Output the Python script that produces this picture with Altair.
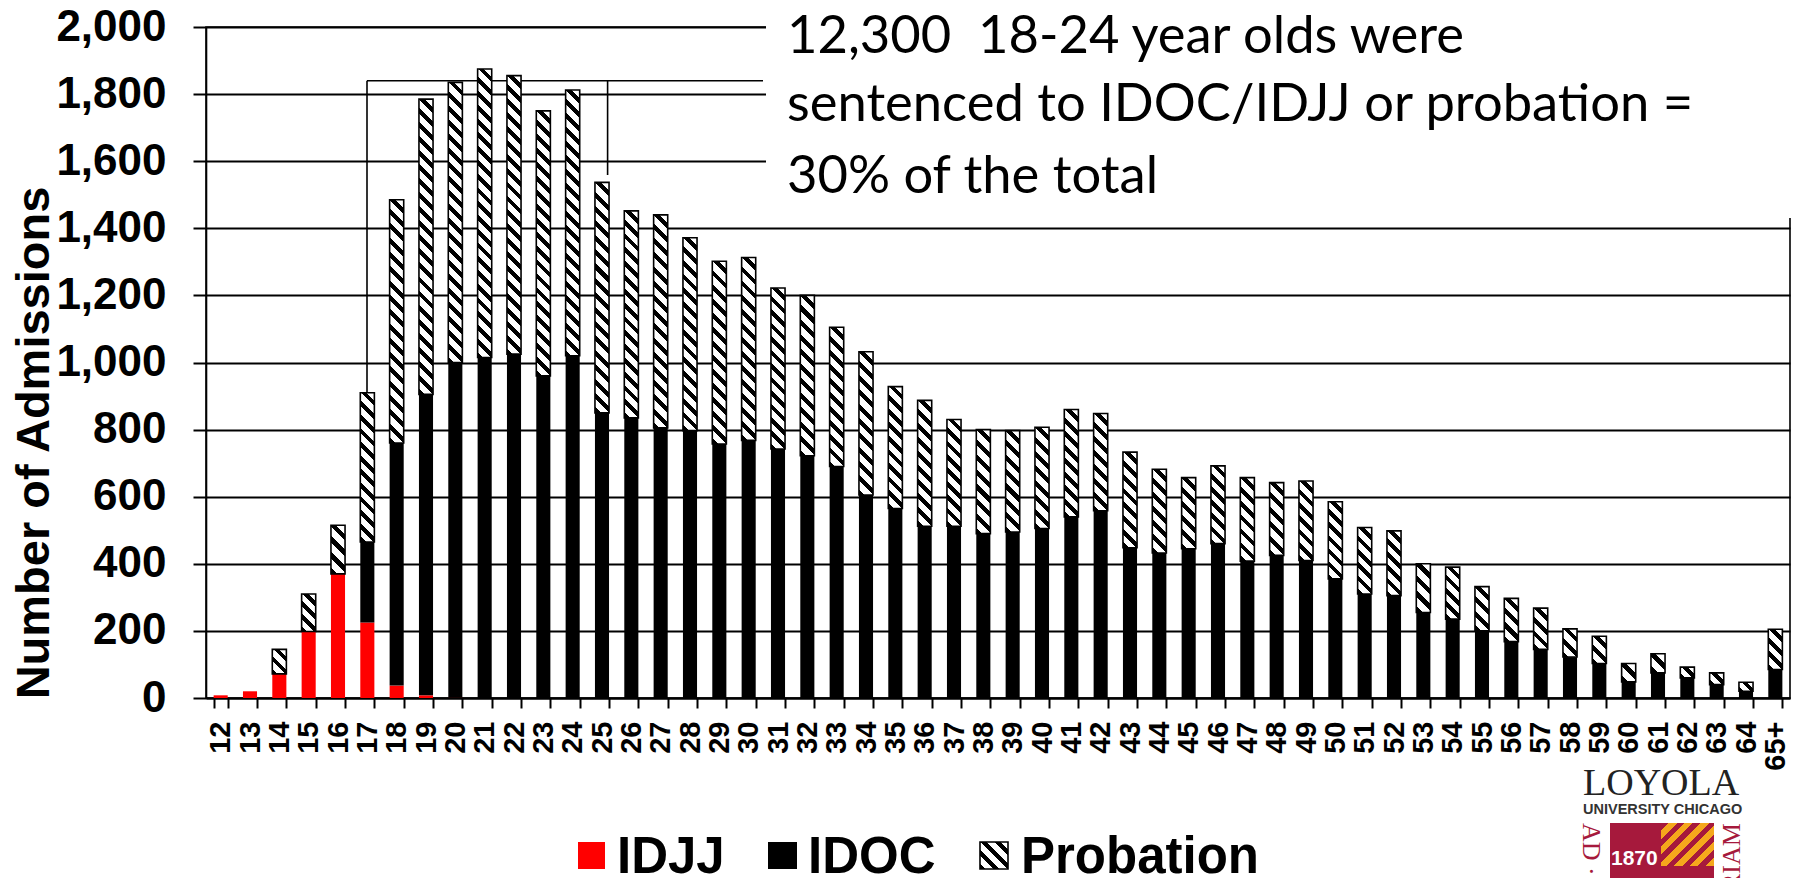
import altair as alt
import pandas as pd

ages = [str(a) for a in range(12, 65)] + ["65+"]
idjj = [8, 20, 72, 198, 370, 225, 37, 8, 1] + [0] * 45
idoc_top = [8, 20, 72, 198, 370, 465, 760, 905, 1000, 1015, 1025, 960, 1020, 850, 835, 805, 797, 757, 768, 742,
            722, 690, 605, 565, 512, 512, 490, 495, 505, 540, 558, 448, 432, 445, 460, 408, 425, 410, 355, 310,
            305, 255, 235, 200, 168, 145, 122, 103, 48, 75, 60, 40, 20, 85]
total = [8, 20, 145, 310, 515, 910, 1485, 1785, 1835, 1875, 1855, 1750, 1812, 1537, 1452, 1440, 1372, 1302, 1313,
         1222, 1200, 1105, 1032, 928, 887, 830, 800, 797, 807, 860, 848, 733, 682, 657, 692, 657, 642, 647, 585,
         508, 498, 400, 390, 332, 297, 268, 206, 184, 103, 132, 92, 75, 47, 205]
y_ticks = list(range(0, 2001, 200))
note_lines = ["12,300\u00a0\u00a018-24 year olds were", "sentenced to IDOC/IDJJ or probation =", "30% of the total"]
legend_names = ["IDJJ", "IDOC", "Probation"]

W, H = 1584, 671
PAD_L, PAD_T = 198, 19
df = pd.DataFrame({"age": ages, "idjj": idjj, "idoc": idoc_top, "total": total})
blank = pd.DataFrame({"a": [0]})


def px(x):
    return x - PAD_L - 8


def py(y):
    return y - PAD_T - 8


def hatch(w, h, period=14.0, dark=0.42, c1="black", c2="white", flip=False):
    n = max(1, round((w + h) / period))
    stops = []
    for i in range(n):
        stops += [
            {"offset": round(i / n, 5), "color": c1},
            {"offset": round((i + dark) / n, 5), "color": c1},
            {"offset": round((i + dark) / n, 5), "color": c2},
            {"offset": round((i + 1) / n, 5), "color": c2},
        ]
    k = (w + h) / (w * w + h * h)
    if flip:
        return {"gradient": "linear", "x1": 1, "y1": 1, "x2": 1 - k * w, "y2": 1 - k * h, "stops": stops}
    return {"gradient": "linear", "x1": 0, "y1": 1, "x2": k * w, "y2": 1 - k * h, "stops": stops}


xs = alt.Scale(domain=ages, paddingInner=0.52, paddingOuter=0.26)
ys = alt.Scale(domain=[0, 2000], nice=False)
x_axis = alt.Axis(
    labelAngle=-90, labelFontSize=29, labelFont="Liberation Sans", labelFontWeight="bold", labelColor="black",
    labelPadding=13, labelOverlap=False, tickBand="extent", tickSize=10, tickWidth=2, tickColor="black",
    domainColor="black", domainWidth=2, grid=False)
y_axis = alt.Axis(
    values=y_ticks, format=",d", labelFontSize=44, labelFont="Liberation Sans", labelFontWeight="bold",
    labelColor="black", labelPadding=27, tickSize=13, tickWidth=2, tickColor="black", domainColor="black",
    domainWidth=1.6, grid=True, gridColor="black", gridWidth=2, gridOpacity=1, labelOverlap=False,
    labelFlush=False, titleFont="Liberation Sans", titleFontSize=47, titleFontWeight="bold", titleColor="black",
    titleX=-158, titleY=H / 2 + 80, titleAlign="center", titleBaseline="alphabetic", titleAngle=270)
X = alt.X("age:N", scale=xs, sort=ages, title=None, axis=x_axis)


def Y(f):
    return alt.Y(f, type="quantitative", scale=ys, title="Number of Admissions", axis=y_axis)


def label(text, x, y, size, font="Liberation Sans", weight="bold", color="black", align="left", angle=0, baseline="alphabetic"):
    return alt.Chart(blank).mark_text(
        text=text, font=font, fontWeight=weight, fontSize=size, color=color, align=align, baseline=baseline, angle=angle
    ).encode(x=alt.value(px(x)), y=alt.value(py(y)))


def box(x, x2, y, y2, fill, **kw):
    return alt.Chart(blank).mark_rect(fill=fill, **kw).encode(
        x=alt.value(px(x)), x2=alt.value(px(x2)), y=alt.value(py(y)), y2=alt.value(py(y2))
    )


def rule(x, x2, y, y2):
    return alt.Chart(blank).mark_rule(color="black", strokeWidth=1.6).encode(
        x=alt.value(px(x)), x2=alt.value(px(x2)), y=alt.value(py(y)), y2=alt.value(py(y2))
    )


layers = [
    box(766, 1793, 0, 218, "white"),
    rule(367, 763, 80.7, 80.7),
    rule(367, 367, 80.7, 393),
    rule(607.6, 607.6, 80.7, 175),
]

layers.append(alt.Chart(df[df.idjj > 0]).mark_bar(color="#ff0000").encode(x=X, y=Y("idjj")))
layers.append(alt.Chart(df[df.idoc > df.idjj]).mark_bar(color="black").encode(x=X, y=Y("idjj"), y2="idoc"))

bar_w = 14.08
for row in df.itertuples():
    h = (row.total - row.idoc) * H / 2000
    if h <= 0:
        continue
    layers.append(
        alt.Chart(df[df.age == row.age]).mark_bar(fill=hatch(bar_w, h), stroke="black", strokeWidth=1.6).encode(
            x=X, y=Y("idoc"), y2="total"
        )
    )

# callout text
note_y = [53, 120.5, 193]
for t, y in zip(note_lines, note_y):
    layers.append(label(t, 787, y, 52.5, font="Lato", weight="normal"))

# legend
layers += [
    box(578, 605, 842, 869, "#ff0000"),
    label(legend_names[0], 617, 873, 51),
    box(768, 797, 842, 869, "black"),
    label(legend_names[1], 808, 873, 51),
    box(980, 1008, 842, 869, hatch(28, 27, 13), stroke="black", strokeWidth=1.6),
    label(legend_names[2], 1021, 873, 51),
]

# Loyola mark
CR = "#a6193c"
layers += [
    label("LOYOLA", 1583, 795, 38, font="Liberation Serif", weight="normal", color="#222222"),
    label("UNIVERSITY CHICAGO", 1583, 814, 14.5, color="#333333"),
    box(1610, 1714, 823, 880, CR),
    box(1661, 1714, 823, 866, hatch(53, 43, 17, 0.55, "#f5a81c", CR, flip=True)),
    label("1870", 1611, 865, 21, color="white"),
    label("AD ·", 1583, 823, 26, font="Liberation Serif", weight="normal", color=CR, angle=90),
    label("RIAM", 1740, 891, 26, font="Liberation Serif", weight="normal", color=CR, angle=270),
]

chart = alt.layer(*layers).properties(
    width=W, height=H,
    padding={"left": PAD_L, "top": PAD_T, "right": 2, "bottom": 180},
    autosize=alt.AutoSizeParams(type="none"),
).configure_view(stroke="black", strokeWidth=1.6)

chart.save("out.html", embed_options={"renderer": "svg", "actions": False})
